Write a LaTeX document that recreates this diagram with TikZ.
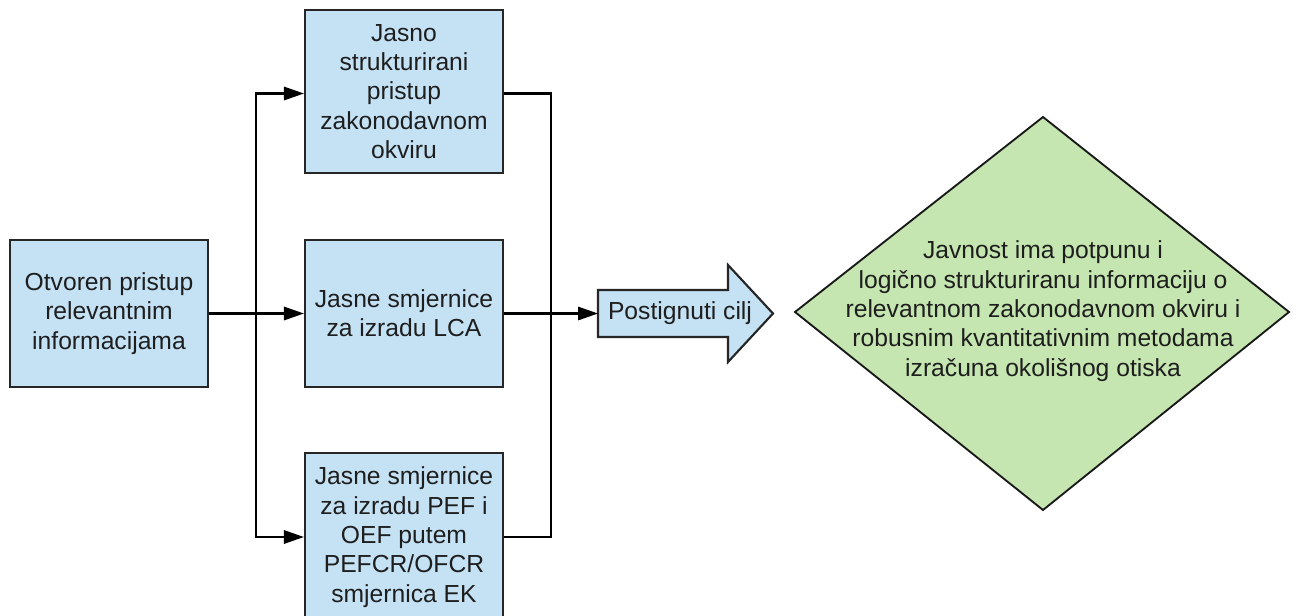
\documentclass[tikz,border=0pt]{standalone}
\usepackage{fontspec}
\setmainfont{Liberation Sans}
\usetikzlibrary{arrows.meta}
\definecolor{boxblue}{HTML}{C5E2F5}
\definecolor{boxgreen}{HTML}{C5E6B0}
\definecolor{txt}{HTML}{1E1E1E}
\begin{document}
\begin{tikzpicture}[x=0.75pt,y=-0.75pt,
  every node/.style={text=txt,font=\fontsize{18.5pt}{22pt}\selectfont},
  bluebox/.style={draw=black!85,line width=1.6pt,fill=boxblue,align=center,
    minimum width=148.5pt,inner sep=0pt},
  conn/.style={line width=1.6pt,draw=black},
  arr/.style={conn,-{Triangle[length=15pt,width=10pt]}}]
\useasboundingbox (0,0) rectangle (1296,615);
% boxes
\node[bluebox,minimum height=110.25pt] (left) at (109,313.5) {Otvoren pristup\\relevantnim\\informacijama};
\node[bluebox,minimum height=122.25pt] (top) at (404,91.5) {Jasno\\strukturirani\\pristup\\zakonodavnom\\okviru};
\node[bluebox,minimum height=110.25pt] (mid) at (404,313.5) {Jasne smjernice\\za izradu LCA};
\node[bluebox,minimum height=126pt] (bot) at (404,537) {Jasne smjernice\\za izradu PEF i\\OEF putem\\PEFCR/OFCR\\smjernica EK};
% block arrow
\draw[draw=black!85,line width=1.6pt,fill=boxblue]
  (598,290) -- (728,290) -- (728,265) -- (773,313.5) -- (728,362) -- (728,337) -- (598,337) -- cycle;
\coordinate (arrowL) at (598,313.5);
\node (goal) at (680,313.5) {Postignuti cilj};
% diamond
\draw[draw=black!90,line width=1.4pt,fill=boxgreen]
  (1043,117) -- (1289,312) -- (1043,510) -- (795,312) -- cycle;
\node[align=center,font=\fontsize{18.5pt}{22pt}\selectfont] (target) at (1043,311)
  {Javnost ima potpunu i\\logično strukturiranu informaciju o\\relevantnom zakonodavnom okviru i\\robusnim kvantitativnim metodama\\izračuna okolišnog otiska};
% connectors
\coordinate (split) at (256,313.5);
\coordinate (join) at (551,313.5);
\draw[arr] (left.east) -- (mid.west);
\draw[arr] (split) |- ([yshift=-1.5pt]top.west);
\draw[arr] (split) |- (bot.west);
\draw[conn] ([yshift=-1.5pt]top.east) -| (join);
\draw[conn] (bot.east) -| (join);
\draw[arr] (mid.east) -- (arrowL);
\end{tikzpicture}
\end{document}
